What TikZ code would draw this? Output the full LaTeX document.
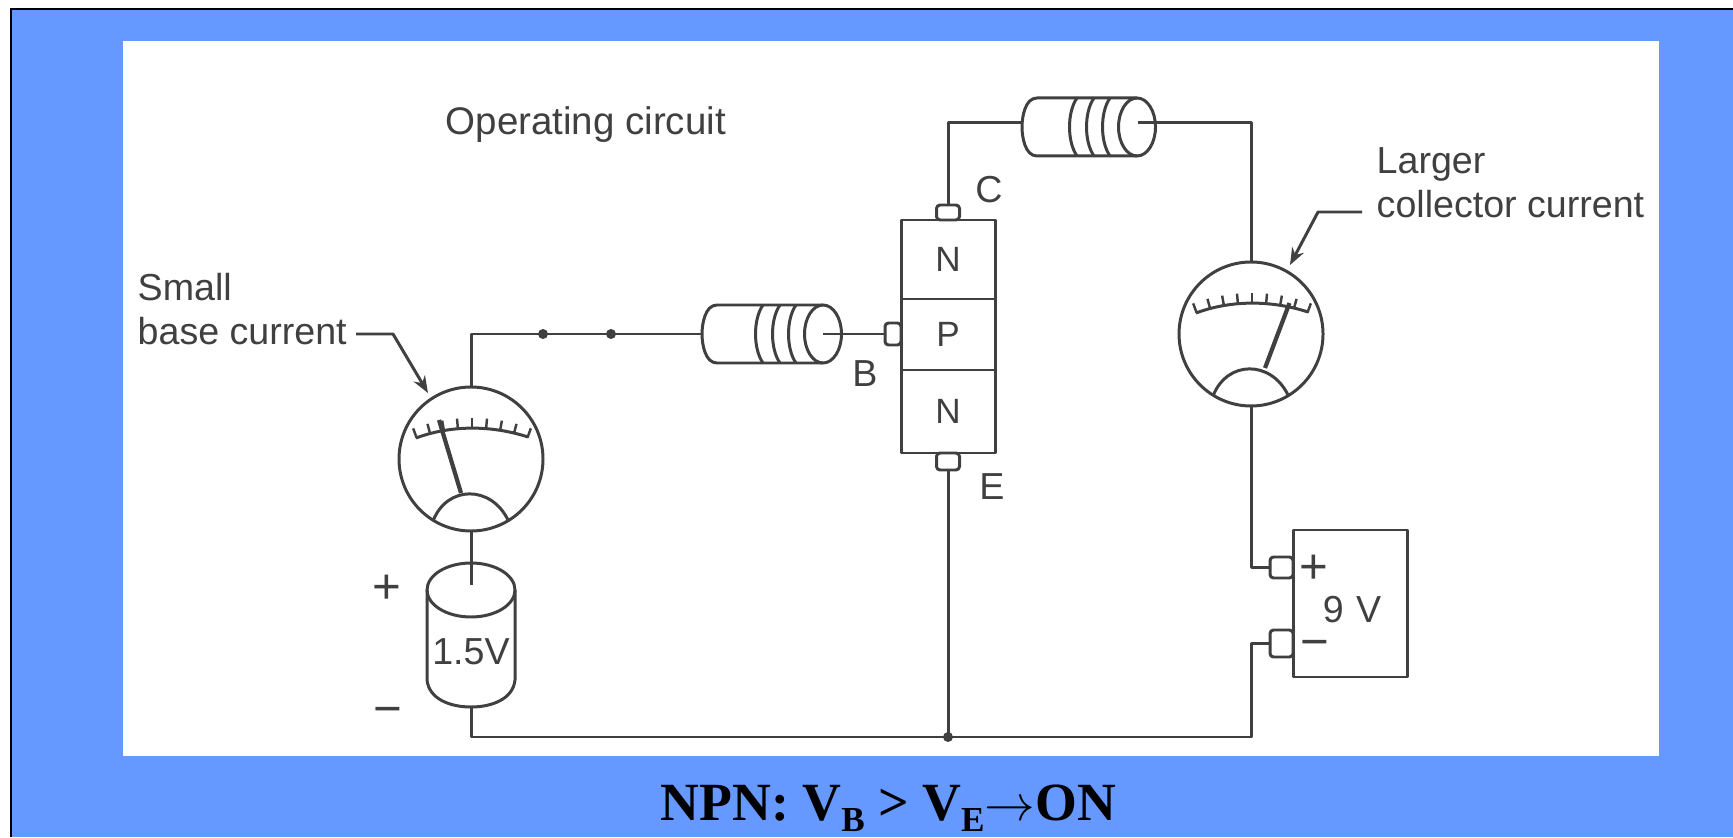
\documentclass[tikz,border=0pt]{standalone}
\usepackage{fontspec}
\setmainfont{Liberation Sans}
\newfontfamily\capfont{Liberation Serif}
\usetikzlibrary{calc,arrows.meta}
\definecolor{slideblue}{HTML}{6699FF}
\definecolor{ink}{HTML}{404040}
\tikzset{
	wire/.style={line width=0.85pt, color=ink, line join=round},
	meter/.style={wire, draw, circle, minimum size=1.44cm, inner sep=0},
	block/.style={wire, draw, minimum width=0.94cm, inner sep=0},
	port/.style={wire, draw, fill=white, rounded corners=1pt, inner sep=0},
	junction/.style={circle, fill=ink, minimum size=0.1cm, inner sep=0},
	label/.style={text=ink, font=\fontsize{10.7}{12.6}\selectfont, inner sep=0},
	sign/.style={text=ink, font=\fontsize{14}{14}\selectfont, inner sep=0},
	pointer/.style={wire, -{Stealth[length=1.7mm, width=1.3mm]}}
}
\def\coil(#1)(#2){
	\begin{scope}[shift={(#1)}]
		\draw[wire] (0, 0.29) -- (-#2+0.15, 0.29) .. controls (-#2+0.03, 0.29) and (-#2, 0.1) .. (-#2, 0) .. controls (-#2, -0.1) and (-#2+0.03, -0.29) .. (-#2+0.15, -0.29) -- (0, -0.29);
		\draw[wire] (0, 0) ellipse (0.185 and 0.29);
		\foreach \d in {0.35, 0.51, 0.68}
			\draw[wire] (-\d+0.08, 0.29) .. controls (-\d-0.02, 0.15) and (-\d-0.02, -0.15) .. (-\d+0.08, -0.29);
	\end{scope}
}
\def\dial(#1)(#2)(#3){
	\begin{scope}[shift={(#1)}]
		\draw[wire] (-0.55, 0.21) .. controls (-0.2, 0.34) and (0.2, 0.34) .. (0.57, 0.22);
		\foreach \a in {70, 75, ..., 110}
			\draw[wire, line width=0.7pt] ($(0.01, -1.31)+(\a:1.62)$) -- ($(0.01, -1.31)+(\a:1.72)$);
		\draw[wire] (-0.38, -0.62) .. controls (-0.24, -0.26) and (0.2, -0.26) .. (0.37, -0.61);
		\draw[wire, line width=1.2pt] (#2) -- (#3);
	\end{scope}
}

\begin{document}
\begin{tikzpicture}
		%%%%% START %%%%%
		\useasboundingbox (0, 0) rectangle (17.33, 8.37);
		
		\fill[slideblue] (0.11, 0) rectangle (17.33, 8.28);
		\draw[line width=0.02cm] (0.11, 0) -- (0.11, 8.28) -- (17.33, 8.28);
		\fill[white] (1.23, 0.81) rectangle (16.59, 7.96);
		
		\node[label, font=\fontsize{10.95}{12.6}\selectfont, anchor=west] (title) at (4.45, 7.12) {Operating circuit};
		\node[label, anchor=west, align=left] (basetext) at (1.37, 5.28) {Small\\base current};
		\node[label, anchor=west, align=left] (colltext) at (13.76, 6.54) {Larger\\collector current};
		
		% transistor
		\node[block, minimum height=0.79cm] (nc) at (9.48, 5.775) {\raisebox{-0.06cm}{N}};
		\node[block, minimum height=0.71cm] (pb) at (9.48, 5.025) {\raisebox{-0.04cm}{P}};
		\node[block, minimum height=0.83cm] (ne) at (9.48, 4.255) {N};
		\node[port, minimum width=0.23cm, minimum height=0.15cm] (portc) at (9.48, 6.245) {};
		\node[port, minimum width=0.16cm, minimum height=0.22cm] (portb) at (8.93, 5.03) {};
		\node[port, minimum width=0.23cm, minimum height=0.17cm] (porte) at (9.48, 3.755) {};
		\node[label] (letc) at (9.89, 6.47) {C};
		\node[label] (letb) at (8.65, 4.63) {B};
		\node[label] (lete) at (9.92, 3.5) {E};
		
		% meters
		\node[meter] (ma) at (4.71, 3.78) {};
		\node[meter] (mb) at (12.51, 5.03) {};
		\dial(ma)(-0.10, -0.34)(-0.32, 0.39);
		\dial(mb)(0.14, -0.34)(0.385, 0.31);
		
		% resistors
		\coil(8.23, 5.03)(1.21);
		\coil(11.37, 7.10)(1.15);
		\coordinate (raw) at (7.02, 5.03);
		\coordinate (rae) at (8.23, 5.03);
		\coordinate (rbw) at (10.22, 7.14);
		\coordinate (rbe) at (11.38, 7.14);
		
		% small cell
		\draw[wire] (4.71, 2.47) ellipse (0.44 and 0.27);
		\draw[wire] (4.27, 2.47) -- (4.27, 1.57) .. controls (4.29, 1.38) and (4.5, 1.30) .. (4.71, 1.30) .. controls (4.92, 1.30) and (5.13, 1.38) .. (5.15, 1.57) -- (5.15, 2.47);
		\coordinate (cellt) at (4.71, 2.52);
		\coordinate (cellb) at (4.71, 1.30);
		\node[label] (cellv) at (4.71, 1.85) {1.5V};
		\node[sign] (cellp) at (3.87, 2.48) {+};
		\node[sign] (cellm) at (3.88, 1.21) {−};
		
		% big battery
		\node[wire, draw, minimum width=1.14cm, minimum height=1.47cm, inner sep=0] (batt) at (13.5, 2.335) {};
		\node[port, minimum width=0.23cm, minimum height=0.21cm] (portp) at (12.815, 2.695) {};
		\node[port, minimum width=0.23cm, minimum height=0.27cm] (portm) at (12.815, 1.935) {};
		\node[label] (battv) at (13.52, 2.27) {9\,\,V};
		\node[sign] (battp) at (13.14, 2.68) {+};
		\node[sign] (battm) at (13.15, 1.88) {−};
		
		% wiring
		\coordinate (gnd) at (9.48, 1.0);
		\coordinate (corner) at (12.51, 1.0);
		\draw[wire] (ma.north) |- (raw);
		\draw[wire] (rae) -- (portb.west);
		\draw[wire] (rbw) -| (portc.north);
		\draw[wire] (mb.north) |- (rbe);
		\draw[wire] (ma.south) -- (cellt);
		\draw[wire] (cellb) |- (corner) |- (portm.west);
		\draw[wire] (mb.south) |- (portp.west);
		\draw[wire] (porte.south) -- (gnd);
		\node[junction] (dota) at (5.43, 5.03) {};
		\node[junction] (dotb) at (6.11, 5.03) {};
		\node[junction] (dotc) at (gnd) {};
		
		% pointers
		\coordinate (pa) at (3.56, 5.03);
		\coordinate (pb1) at (3.93, 5.03);
		\coordinate (pc) at (4.28, 4.44);
		\draw[pointer] (pa) -- (pb1) -- (pc);
		\coordinate (qa) at (13.62, 6.25);
		\coordinate (qb) at (13.18, 6.25);
		\coordinate (qc) at (12.90, 5.72);
		\draw[pointer] (qa) -- (qb) -- (qc);
		
		\node[anchor=base west, inner sep=0, font=\capfont\bfseries\fontsize{15.3}{16}\selectfont] (caption) at (6.6, 0.17) {NPN: V\raisebox{-0.45ex}{\fontsize{10}{10}\selectfont B} > V\raisebox{-0.45ex}{\fontsize{10}{10}\selectfont E}$\rightarrow$ON};
		%%%%% END %%%%%
	\end{tikzpicture}
\end{document}
